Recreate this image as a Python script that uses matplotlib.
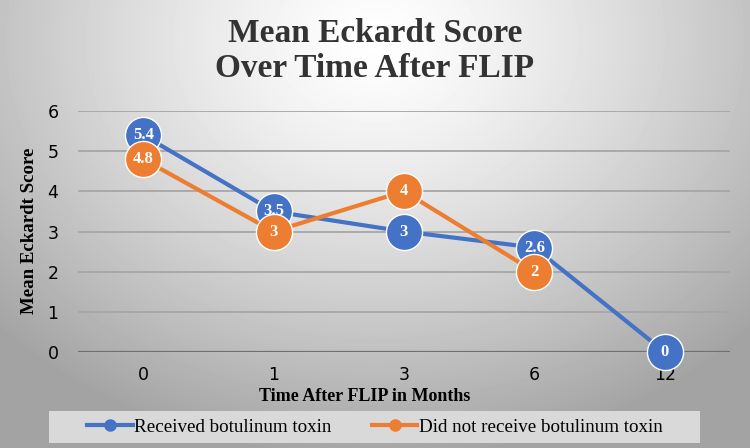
import numpy as np
import matplotlib.pyplot as plt
from matplotlib.lines import Line2D
from matplotlib.patches import Rectangle

months = ['0', '1', '3', '6', '12']
received = [5.4, 3.5, 3, 2.6, 0]
not_received = [4.8, 3, 4, 2, np.nan]
label_received = ['5.4', '3.5', '3', '2.6', '0']
label_not = ['4.8', '3', '4', '2', '']

blue = '#4472C4'
orange = '#ED7D31'
serif = 'Liberation Serif'

fig = plt.figure(figsize=(7.5, 4.48), dpi=100)

# radial grey background
bg = fig.add_axes([0, 0, 1, 1], zorder=-10)
yy, xx = np.mgrid[0:448, 0:750]
r = np.sqrt(((xx - 375) / 520.0) ** 2 + ((yy - 40) / 420.0) ** 2)
shade = 1.0 - 0.36 * np.clip(r, 0, 1) ** 1.3
bg.imshow(shade, cmap='gray', vmin=0, vmax=1, aspect='auto', interpolation='bilinear')
bg.axis('off')
# legend panel
fig.patches.append(Rectangle((49 / 750, 1 - 443 / 448), 651 / 750, 32 / 448,
                             transform=fig.transFigure, facecolor='#d9d9d9',
                             edgecolor='none', zorder=-5))

ax = fig.add_axes([78 / 750, 1 - 352 / 448, 652 / 750, 241 / 448])
ax.patch.set_alpha(0)
x = np.arange(len(months))

ax.set_ylim(0, 6)
ax.set_xlim(-0.5, 4.5)
for v in range(1, 7):
    ax.axhline(v, color='#a6a6a6', lw=1.3, zorder=1)
ax.axhline(0, color='#707070', lw=1.6, zorder=1)

ax.plot(x, received, color=blue, lw=3, marker='o', ms=26, mfc=blue,
        mec='white', mew=1, zorder=3, clip_on=False)
ax.plot(x, not_received, color=orange, lw=3, marker='o', ms=26, mfc=orange,
        mec='white', mew=1, zorder=4, clip_on=False)
for xi, v, t in zip(x, received, label_received):
    ax.text(xi, v, t, color='white', ha='center', va='center', fontsize=12,
            fontweight='bold', family=serif, zorder=5)
for xi, v, t in zip(x, not_received, label_not):
    if t:
        ax.text(xi, v, t, color='white', ha='center', va='center', fontsize=12,
                fontweight='bold', family=serif, zorder=6)

ax.set_xticks(x)
ax.set_xticklabels(months)
ax.set_yticks(range(7))
ax.tick_params(length=0, labelsize=12.5, colors='black', pad=10)
ax.tick_params(axis='y', pad=14)
for s in ax.spines.values():
    s.set_visible(False)

fig.text(30 / 750, 1 - 231 / 448, 'Mean Eckardt Score', rotation=90, ha='center', va='center',
         family=serif, fontweight='bold', fontsize=13.6)

fig.text(375 / 750, 1 - 51 / 448, 'Mean Eckardt Score\nOver Time After FLIP', ha='center',
         va='center', family=serif, fontweight='bold', fontsize=24, color='#333333',
         linespacing=1.2)
fig.text(365 / 750, 1 - 396 / 448, 'Time After FLIP in Months', ha='center', va='center',
         family=serif, fontweight='bold', fontsize=13)

handles = [Line2D([], [], color=blue, lw=3, marker='o', ms=8),
           Line2D([], [], color=orange, lw=3, marker='o', ms=8)]
leg = fig.legend(handles, ['Received botulinum toxin', 'Did not receive botulinum toxin'],
                 loc='center', bbox_to_anchor=(375 / 750, 1 - 427 / 448), ncol=2,
                 frameon=False, prop={'family': serif, 'size': 13.7},
                 handlelength=2.4, columnspacing=2.1, borderpad=0.35, handletextpad=0.1,
                 borderaxespad=0)

fig.savefig('out.png', dpi=100)
